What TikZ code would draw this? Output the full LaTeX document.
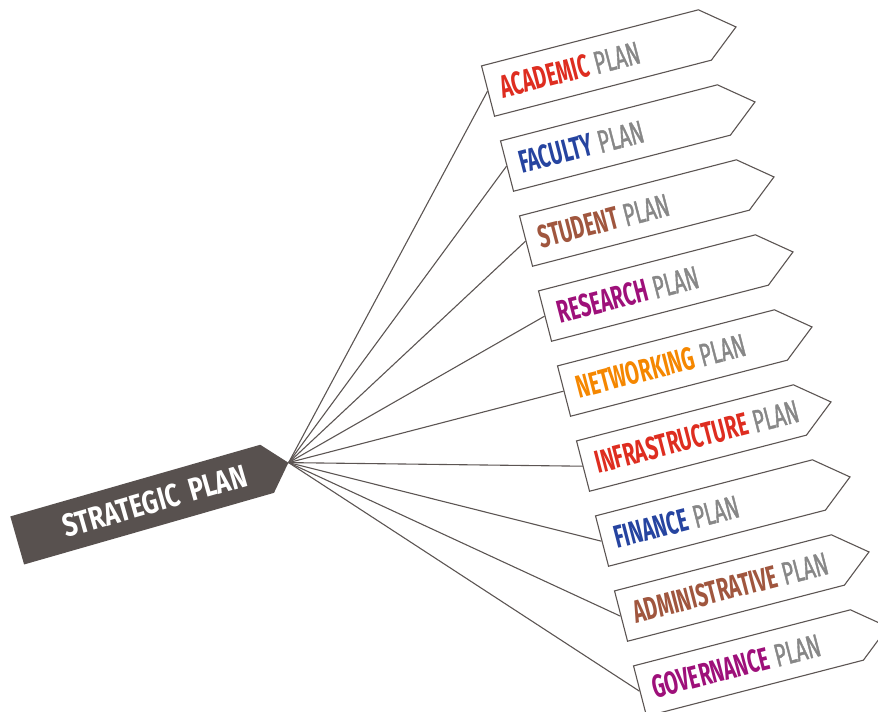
\documentclass[tikz,border=0pt]{standalone}
\usepackage{fontspec}
\setmainfont{Fira Sans}[FakeStretch=0.62]
\newfontfamily\stratfont{Fira Sans}[FakeStretch=0.78]
\newfontfamily\planfont{Fira Sans}[FakeStretch=0.62, FakeBold=1.2]
\usetikzlibrary{shapes.symbols}

\definecolor{stratgray}{RGB}{88,81,79}
\definecolor{linegray}{RGB}{92,85,83}
\definecolor{plangray}{RGB}{135,135,135}
\definecolor{planred}{RGB}{222,45,32}
\definecolor{planblue}{RGB}{38,68,160}
\definecolor{planbrown}{RGB}{160,86,62}
\definecolor{planpurple}{RGB}{158,16,122}
\definecolor{planorange}{RGB}{245,135,0}

\newcommand{\planlabel}[2]{\mbox{\textcolor{#1}{\bfseries #2}\hspace{6pt}\textcolor{plangray}{\planfont PLAN}}}

\begin{document}
\begin{tikzpicture}[x=1pt,y=-1pt]
    \useasboundingbox (0,0) rectangle (878,712);

    \node(s) [signal, signal to=east, signal pointer angle=97, fill=stratgray,
              text=white, font=\fontsize{32}{32}\stratfont\bfseries,
              text width=216pt, align=right, inner xsep=22pt, inner ysep=0pt,
              minimum height=50pt, rotate=16, anchor=west] at (17,540.5) {STRATEGIC PLAN};

    \begin{scope}[every node/.style = {signal, signal to=east, signal pointer angle=78,
                  draw=linegray, line width=1.1pt, fill=white, rotate=14.5, anchor=west,
                  font=\fontsize{32}{32}\selectfont, text width=198pt, align=left,
                  inner xsep=13pt, inner ysep=0pt, minimum height=52pt}]
        \node(p1) at (487.5,91.2)  {\planlabel{planred}{ACADEMIC}};
        \node(p2) at (506.5,166.2) {\planlabel{planblue}{FACULTY}};
        \node(p3) at (525.5,241.2) {\planlabel{planbrown}{STUDENT}};
        \node(p4) at (544.5,316.2) {\planlabel{planpurple}{RESEARCH}};
        \node(p5) at (563.5,391.2) {\planlabel{planorange}{NETWORKING}};
        \node(p6) at (582.5,466.2) {\planlabel{planred}{INFRASTRUCTURE}};
        \node(p7) at (601.5,541.2) {\planlabel{planblue}{FINANCE}};
        \node(p8) at (620.5,616.2) {\planlabel{planbrown}{ADMINISTRATIVE}};
        \node(p9) at (639.5,691.2) {\planlabel{planpurple}{GOVERNANCE}};
    \end{scope}

    \begin{scope}[every edge/.style = {-, draw=linegray, line width=1.1pt}]
        \path(s.east) edge[] (p1.west);
        \path(s.east) edge[] (p2.west);
        \path(s.east) edge[] (p3.west);
        \path(s.east) edge[] (p4.west);
        \path(s.east) edge[] (p5.west);
        \path(s.east) edge[] (p6.west);
        \path(s.east) edge[] (p7.west);
        \path(s.east) edge[] (p8.west);
        \path(s.east) edge[] (p9.west);
    \end{scope}
\end{tikzpicture}
\end{document}
